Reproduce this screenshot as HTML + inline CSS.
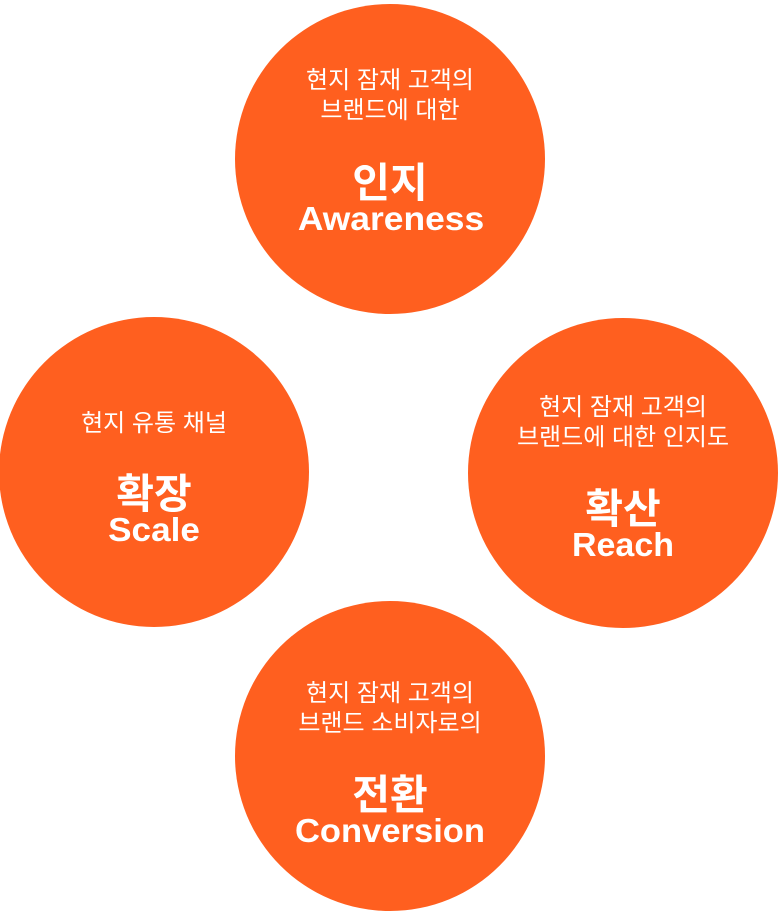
<!DOCTYPE html>
<html lang="ko">
<head>
<meta charset="utf-8">
<style>
html,body{margin:0;padding:0;background:#fff}
body{width:780px;height:912px;position:relative;overflow:hidden;font-family:"Liberation Sans","Noto Sans CJK KR",sans-serif;color:#fff}
.c{position:absolute;width:310px;height:310px;border-radius:50%;background:#ff5f1f}
.t{position:absolute;left:-40px;width:390px;text-align:center;white-space:nowrap}
.s{font-size:24px;line-height:30px;font-weight:400;letter-spacing:0}
.k{font-size:41px;line-height:46px;font-weight:700}
.e{font-size:33px;line-height:36px;font-weight:700}
</style>
</head>
<body>
<div class="c" style="left:235px;top:4px">
  <div class="t s" style="top:62px">현지 잠재 고객의</div>
  <div class="t s" style="top:92px">브랜드에 대한</div>
  <div class="t k" style="top:156px">인지</div>
  <div class="t e" style="top:197px;left:-39px;transform:scaleX(1.073)">Awareness</div>
</div>
<div class="c" style="left:-1px;top:317px">
  <div class="t s" style="top:92px">현지 유통 채널</div>
  <div class="t k" style="top:154px">확장</div>
  <div class="t e" style="top:195px;transform:scaleX(1.063)">Scale</div>
</div>
<div class="c" style="left:468px;top:318px">
  <div class="t s" style="top:75px">현지 잠재 고객의</div>
  <div class="t s" style="top:105px">브랜드에 대한 인지도</div>
  <div class="t k" style="top:168px">확산</div>
  <div class="t e" style="top:209px;transform:scaleX(1.03)">Reach</div>
</div>
<div class="c" style="left:235px;top:601px">
  <div class="t s" style="top:78px">현지 잠재 고객의</div>
  <div class="t s" style="top:108px">브랜드 소비자로의</div>
  <div class="t k" style="top:171px">전환</div>
  <div class="t e" style="top:212px;transform:scaleX(1.047)">Conversion</div>
</div>
</body>
</html>
